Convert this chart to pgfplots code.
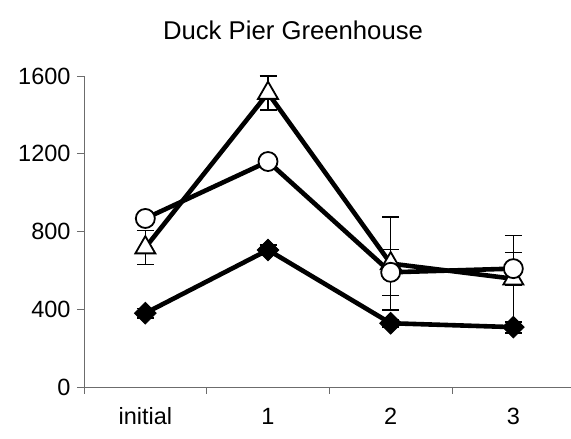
\documentclass[border=0pt]{standalone}
\usepackage{pgfplots}
\pgfplotsset{compat=1.18}
\usepackage{fontspec}
\setmainfont{Liberation Sans}
\begin{document}
\begin{tikzpicture}[x=1pt,y=1pt]
\path[use as bounding box] (0,0) rectangle (571,439);
\node[anchor=base,font=\fontsize{25.7}{30}\selectfont] at (293,399) {Duck Pier Greenhouse};
\begin{axis}[
  at={(84pt,52pt)}, anchor=south west,
  scale only axis, width=487pt, height=311pt,
  xmin=-0.5, xmax=3.47, ymin=0, ymax=1600,
  axis x line*=bottom, axis y line*=left,
  axis line style={draw=gray!85!black, line width=0.9pt},
  ytick={0,400,800,1200,1600},
  xtick={-0.5,0.5,1.5,2.5},
  xticklabels={},
  extra x ticks={0,1,2,3},
  extra x tick labels={initial,1,2,3},
  extra x tick style={major tick length=0pt, tick style={draw=none}},
  tick align=outside,
  major tick length=7pt,
  tick style={draw=gray!85!black, line width=0.9pt},
  /pgf/number format/assume math mode=true,
  /pgf/number format/1000 sep={},
  ticklabel style={font=\fontsize{23.5}{27}\selectfont},
  yticklabel style={xshift=-3pt},
  xticklabel style={anchor=base, yshift=-38pt},
  clip=false,
  error bars/error bar style={line width=1.5pt, black},
  error bars/error mark options={rotate=90, mark size=8.5pt, line width=1.5pt, black},
]
% triangles
\addplot[black, line width=4.6pt, mark=triangle*, mark size=11.5pt, mark options={fill=white, draw=black, line width=1.8pt}]
  coordinates {(0,717) (1,1512) (2,635) (3,557)};
% circles
\addplot[black, line width=4.6pt, mark=*, mark size=9.5pt, mark options={fill=white, draw=black, line width=1.8pt}]
  coordinates {(0,867) (1,1160) (2,590) (3,609)};
% diamonds
\addplot[black, line width=4.6pt, mark=square*, mark size=7.6pt, mark options={rotate=45, fill=black, draw=black, line width=1pt}]
  coordinates {(0,380) (1,705) (2,328) (3,308)};
% error bars drawn on top
\addplot[draw=none, mark=none, error bars/.cd, y dir=both, y explicit]
  coordinates {(0,717) +- (0,88) (1,1512) +- (0,88) (2,635) +- (0,240) (3,557) +- (0,222)};
\addplot[draw=none, mark=none, error bars/.cd, y dir=both, y explicit]
  coordinates {(2,590) +- (0,118) (3,609) +- (0,84)};
\addplot[draw=none, mark=none, error bars/.cd, y dir=both, y explicit]
  coordinates {(0,380) +- (0,25) (1,705) +- (0,25) (2,328) +- (0,20) (3,308) +- (0,30)};
\end{axis}
\end{tikzpicture}
\end{document}
